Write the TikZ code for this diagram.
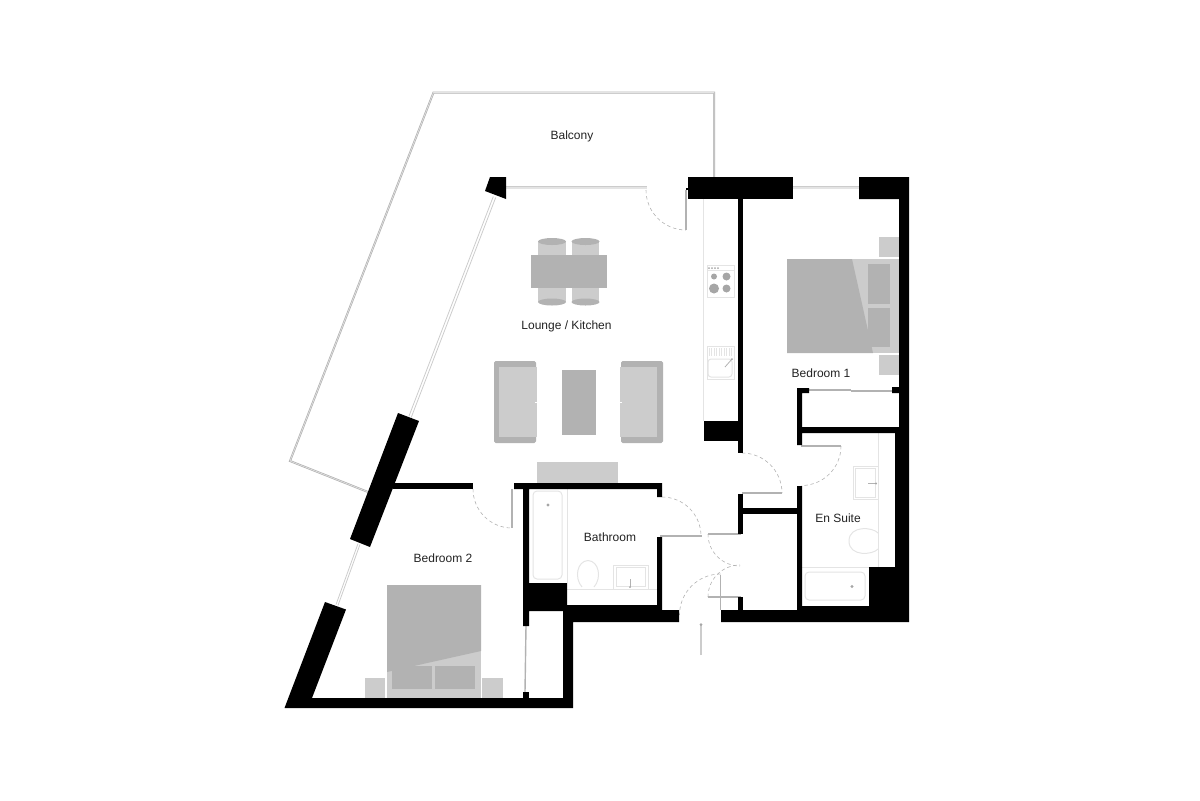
\documentclass[tikz,border=0pt]{standalone}
\usepackage{fontspec}
\setmainfont{Liberation Sans}
\definecolor{dark}{HTML}{B2B2B2}
\definecolor{mid}{HTML}{CCCCCC}
\definecolor{fix}{HTML}{E4E4E4}
\definecolor{txt}{HTML}{222222}
\tikzset{
  wall/.style={fill=black,draw=none},
  darkfill/.style={fill=dark,draw=none},
  midfill/.style={fill=mid,draw=none},
  rail/.style={draw=dark,line width=1pt,line join=miter},
  railcore/.style={draw=fix,line width=.3pt,line join=miter},
  glaze/.style={draw=fix,line width=1.2pt},
  glazeline/.style={draw=mid,line width=.4pt},
  leaf/.style={draw=dark,line width=.7pt},
  swing/.style={draw=dark,line width=.3pt,dash pattern=on 1.7pt off 1.4pt},
  fixture/.style={draw=fix,line width=.5pt},
  tap/.style={draw=dark,line width=.4pt},
  dotfill/.style={fill=gray!70,draw=none},
  label/.style={font=\fontsize{6}{7}\selectfont,text=txt,inner sep=0pt}
}
\begin{document}
\begin{tikzpicture}[x=.5pt,y=-.5pt]
\useasboundingbox (0,0) rectangle (1200,800);
% balcony rail
\draw[rail] (714,177) -- (714,92.5) -- (433.5,92.5) -- (290,461) -- (368,492);
\draw[railcore] (714,177) -- (714,92.5) -- (433.5,92.5) -- (290,461) -- (368,492);
% windows
\draw[glaze] (506,188) -- (647,188);
\draw[glazeline] (506,186.8) -- (647,186.8);
\draw[glaze] (793,188) -- (859,188);
\draw[glazeline] (793,186.8) -- (859,186.8);
\draw[glazeline] (493.3,196.5) -- (408.8,416.5);
\draw[glazeline] (495.7,197.5) -- (411.2,417.5);
\draw[glazeline] (358,543.6) -- (336,604.6);
\draw[glazeline] (360,544.4) -- (338,605.4);
% kitchen
\draw[fixture] (703,199) -- (703,421);
\draw[fixture] (707,265) rectangle (734,297);
\draw[fixture] (707,270.5) -- (734,270.5);
\foreach \px in {709,712,715,718}{\fill[dotfill] (\px,268) circle (1);}
\fill[dotfill] (714,276.5) circle (3);
\fill[dotfill] (726.5,276.5) circle (4);
\fill[dotfill] (714,288.5) circle (5);
\fill[dotfill] (726.5,288.5) circle (4);
\draw[fixture] (707,346) rectangle (734,379);
\foreach \px in {709,711.5,...,732}{\draw[fixture,line width=.35pt] (\px,348) -- (\px,356);}
\draw[fixture,rounded corners=1.5pt] (708,359) rectangle (732,377);
\draw[tap] (725,367) -- (732,359);
\fill[dotfill] (732,359) circle (1);
% dining
\fill[midfill] (538,241) rectangle (566,302);
\fill[midfill] (572,241) rectangle (599,302);
\foreach \px in {552,585.5}{
  \fill[darkfill] (\px,241.5) ellipse (14 and 3.5);
  \fill[darkfill] (\px,302) ellipse (14 and 3.5);
}
\fill[darkfill] (531,255) rectangle (607,288);
% sofas
\fill[darkfill,rounded corners=.8pt] (494,361) rectangle (536,443);
\fill[midfill] (499,367) rectangle (537,437);
\fill[darkfill,rounded corners=.8pt] (621,361) rectangle (663,443);
\fill[midfill] (620,367) rectangle (657,437);
\draw[white,line width=.3pt] (535,402) -- (537,402);
\draw[white,line width=.3pt] (620,402) -- (622,402);
\fill[darkfill] (562,370) rectangle (596,435);
\fill[midfill] (537,462) rectangle (618,483);
% bed 1
\fill[midfill] (787,259) rectangle (899,353);
\fill[darkfill] (787,259) -- (852,259) -- (873,353) -- (787,353) -- cycle;
\fill[darkfill] (868,264) rectangle (890,304);
\fill[darkfill] (868,308) rectangle (890,347);
\fill[midfill] (879,237) rectangle (899,257);
\fill[midfill] (879,355) rectangle (899,375);
% bed 2
\fill[midfill] (387,585) rectangle (481,698);
\fill[darkfill] (387,585) -- (481,585) -- (481,651) -- (387,672) -- cycle;
\fill[darkfill] (392,666) rectangle (432,689);
\fill[darkfill] (435,666) rectangle (475,689);
\fill[midfill] (365,678) rectangle (385,698);
\fill[midfill] (482,678) rectangle (503,698);
% en suite fixtures
\draw[fixture] (878,433) -- (878,567);
\draw[fixture] (802,567) -- (869,567);
\draw[fixture] (853,466) rectangle (878,499);
\draw[fixture] (855,468) rectangle (875,497);
\draw[tap] (868,483.5) -- (876,483.5);
\fill[dotfill] (876,483.5) circle (1.2);
\draw[fixture] (878,533) .. controls (873,527) and (849,525) .. (849,541) .. controls (849,557) and (873,555) .. (878,549);
\draw[fixture,rounded corners=2pt] (805,572) rectangle (865,600);
\fill[dotfill] (852,586.5) circle (1.6);
% bathroom fixtures
\draw[fixture] (567,489) -- (567,583);
\draw[fixture] (567,589) -- (657,589);
\draw[fixture,rounded corners=2pt] (533,491) rectangle (562,579);
\fill[dotfill] (548,505) circle (1.6);
\draw[fixture] (582,587) .. controls (574,578) and (577,561) .. (588,560.5) .. controls (599,561) and (602,578) .. (594,587);
\draw[fixture] (613,589) -- (613,565) -- (648,565) -- (648,589);
\draw[fixture] (616,586) rectangle (645,567);
\draw[tap] (630,579) -- (630,587);
\fill[dotfill] (630,587) circle (1);
% door leaves and swings
\draw[leaf] (686,190) -- (686,230);
\draw[swing] (646,190) arc[start angle=180,end angle=90,radius=40];
\draw[leaf] (512,489) -- (512,527.5);
\draw[swing] (473,489) arc[start angle=180,end angle=90,radius=39];
\draw[leaf] (660,536) -- (701.5,536);
\draw[swing] (662,497) arc[start angle=-90,end angle=0,radius=39];
\draw[leaf] (742,493) -- (782,493);
\draw[swing] (742,453) arc[start angle=-90,end angle=0,radius=40];
\draw[leaf] (801,446) -- (841,446);
\draw[swing] (841,446) arc[start angle=0,end angle=90,radius=39.5];
\draw[leaf] (708,534) -- (741,534);
\draw[swing] (708,534) arc[start angle=180,end angle=90,radius=32];
\draw[leaf] (708,597) -- (741,597);
\draw[swing] (708,597) arc[start angle=180,end angle=270,radius=32];
\draw[leaf] (720.5,575) -- (720.5,610);
\draw[swing] (720.5,574) arc[start angle=270,end angle=180,radius=41];
% wardrobe and cupboard sliding doors
\draw[leaf] (809,390) -- (851,390);
\draw[leaf] (851,391) -- (892,391);
\draw[leaf] (526,626) -- (525,692);
% entrance arrow
\draw[draw=mid,line width=.6pt] (701,655) -- (701,625);
\fill[dotfill] (701,624.5) circle (1.5);
% walls
\fill[wall] (490,177) -- (506,177) -- (506,199) -- (485,191) -- cycle;
\fill[wall] (686,188) rectangle (689,190);
\fill[wall] (688,177) rectangle (793,199);
\fill[wall] (738,199) rectangle (743,453);
\fill[wall] (704,421) rectangle (738,441);
\fill[wall] (721,610) -- (797,610) -- (797,486) -- (802,486) -- (802,606) -- (869,606) -- (869,567) -- (895,567) -- (895,433) -- (802,433) -- (802,445) -- (797,445) -- (797,388) -- (809,388) -- (809,393) -- (802,393) -- (802,427) -- (899,427) -- (899,393) -- (892,393) -- (892,387) -- (899,387) -- (899,199) -- (859,199) -- (859,177) -- (909,177) -- (909,622) -- (721,622) -- cycle;
\fill[wall] (738,494) rectangle (743,534);
\fill[wall] (743,508) rectangle (797,514);
\fill[wall] (738,597) rectangle (743,610);
\fill[wall] (398,413) -- (419,421) -- (370,547) -- (350,539) -- cycle;
\fill[wall] (393,483) rectangle (473,489);
\fill[wall] (514,483) -- (662,483) -- (662,497) -- (657,497) -- (657,489) -- (529,489) -- (529,583) -- (567,583) -- (567,605) -- (657,605) -- (657,537) -- (662,537) -- (662,610) -- (679,610) -- (679,622) -- (573,622) -- (573,708) -- (284.5,708) -- (325,602) -- (346,609.5) -- (312,698) -- (563,698) -- (563,611) -- (529,611) -- (529,626) -- (523,626) -- (523,489) -- (514,489) -- cycle;
\fill[wall] (523,692) rectangle (529,698);
% labels
\node[label] (balcony) at (572,136) {Balcony};
\node[label] (lounge) at (566.5,326.5) {Lounge / Kitchen};
\node[label] (bedone) at (821,373.5) {Bedroom 1};
\node[label] (bath) at (610,537) {Bathroom};
\node[label] (ensuite) at (838,518.5) {En Suite};
\node[label] (bedtwo) at (443,558.5) {Bedroom 2};
\end{tikzpicture}
\end{document}
